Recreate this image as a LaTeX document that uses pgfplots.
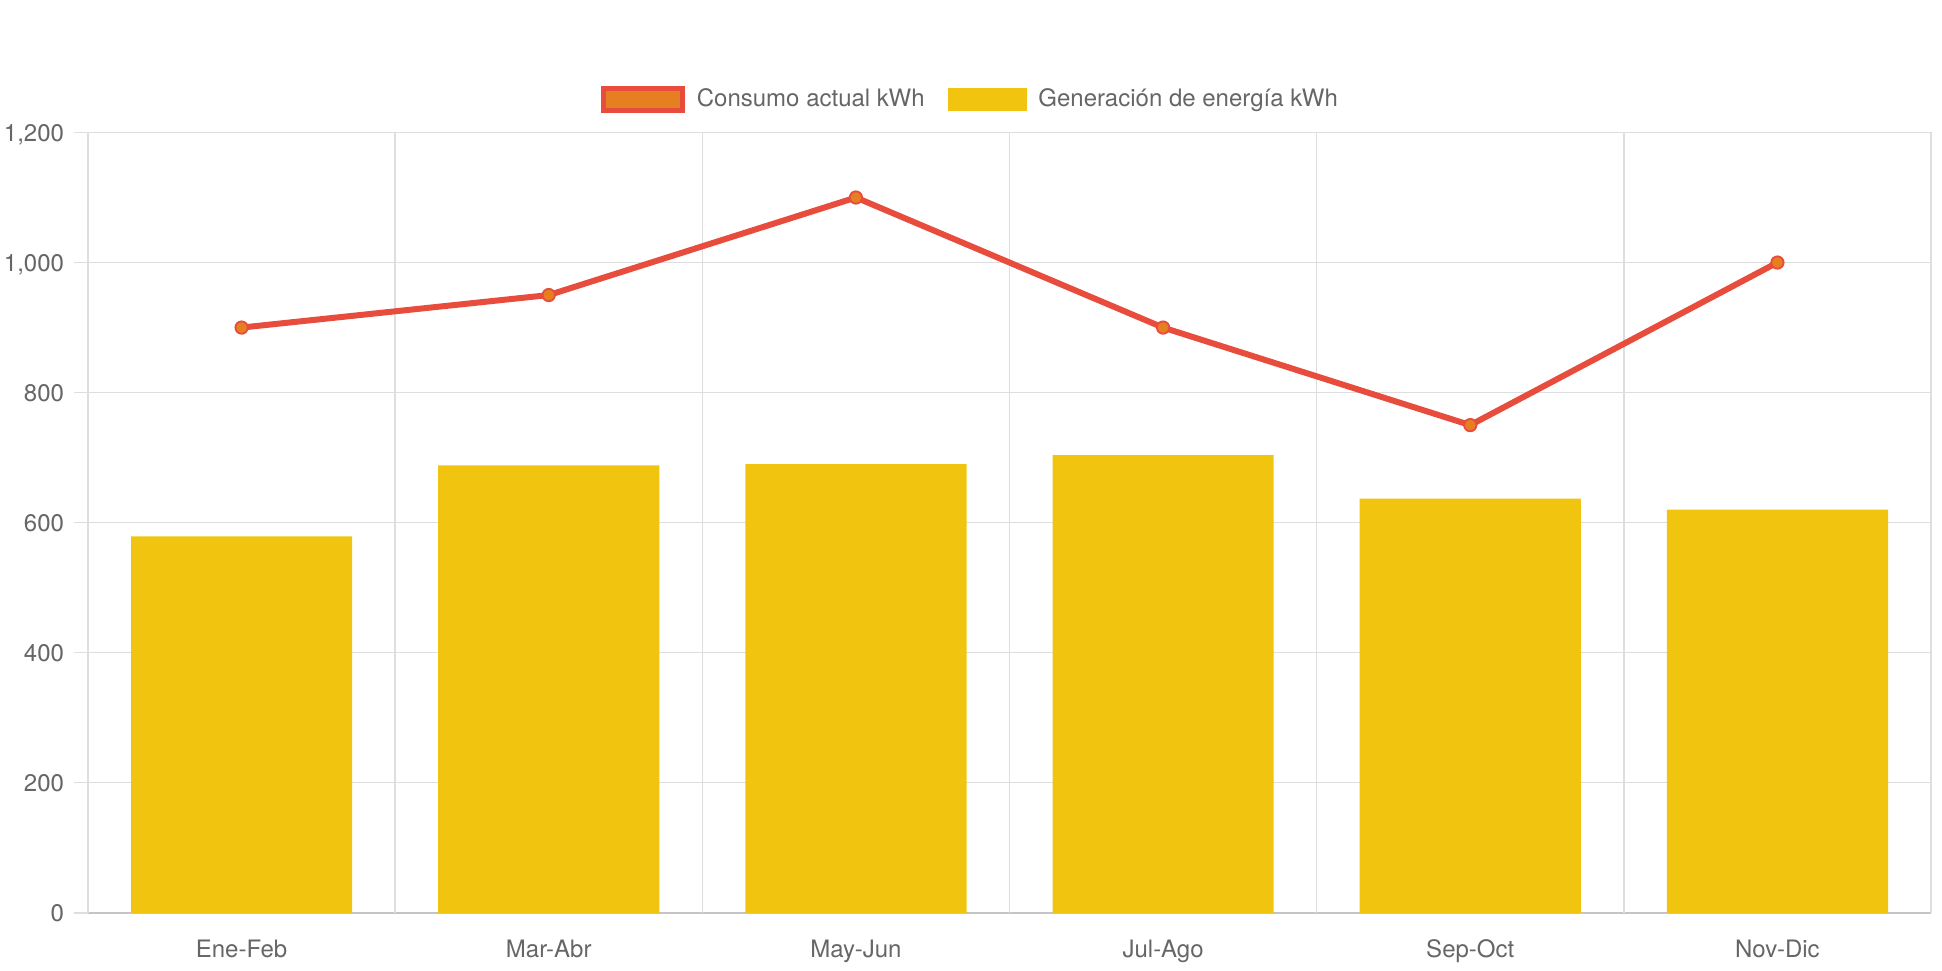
\documentclass[border=0pt]{standalone}
\usepackage{fontspec}
\setmainfont{TeX Gyre Heros}
\usepackage{pgfplots}
\usepackage{pgfplotstable}
\pgfplotsset{compat=1.18}
\definecolor{barY}{HTML}{F1C40F}
\definecolor{orangeC}{HTML}{E67E22}
\definecolor{redC}{HTML}{E74C3C}
\definecolor{txtgray}{HTML}{666666}
\definecolor{gridgray}{HTML}{DEDEDE}
\definecolor{axgray}{HTML}{C4C4C4}
\pgfplotstableread{
x gen cons
0 579 900
1 688 950
2 690 1100
3 704 900
4 637 750
5 620 1000
}\datatable
\begin{document}
\begin{tikzpicture}
\useasboundingbox (-44pt,-28.6pt) rectangle (927pt,456.4pt);
\begin{axis}[
  scale only axis,
  width=921.5pt, height=390.15pt,
  xmin=-0.5, xmax=5.5, ymin=0, ymax=1200,
  clip=false,
  axis x line=bottom, axis y line=left,
  x axis line style={-, draw=axgray, line width=0.8pt},
  y axis line style={-, draw=gridgray, line width=0.8pt},
  xtick={0,1,2,3,4,5},
  xticklabels={Ene-Feb,Mar-Abr,May-Jun,Jul-Ago,Sep-Oct,Nov-Dic},
  x tick style={draw=none},
  extra x ticks={-0.5,0.5,1.5,2.5,3.5,4.5,5.5},
  extra x tick labels={},
  extra x tick style={grid=major, major tick length=6.2pt, tick align=outside, tick style={draw=gridgray, line width=0.7pt}},
  ytick={0,200,400,600,800,1000,1200},
  ymajorgrids,
  major grid style={draw=gridgray, line width=0.7pt},
  y tick style={draw=gridgray, line width=0.7pt},
  tick align=outside,
  major tick length=6.8pt,
  /pgf/number format/assume math mode=true,
  /pgf/number format/.cd, 1000 sep={,}, /pgfplots/.cd,
  tick label style={font=\fontsize{12}{14}\selectfont, text=txtgray, inner sep=0pt},
  yticklabel style={anchor=base east, xshift=-5pt, yshift=-4.3pt},
  xticklabel style={anchor=base, yshift=-15.5pt},
  legend columns=2,
  legend style={at={(0.4783,1.0423)}, anchor=center, draw=none, fill=none,
    inner sep=0pt, outer sep=0pt,
    font=\fontsize{12}{14}\selectfont, text=txtgray,
    nodes={inner sep=0pt},
    /tikz/every odd column/.append style={column sep=6pt},
    /tikz/every even column/.append style={column sep=11.5pt}},
]
\addlegendimage{legend image code/.code={\draw[fill=orangeC, draw=redC, line width=2.4pt] (0pt,-5.5pt) rectangle (39.5pt,5.5pt);}}
\addlegendentry{Consumo actual kWh}
\addlegendimage{legend image code/.code={\fill[barY] (0pt,-5.5pt) rectangle (39pt,5.5pt);}}
\addlegendentry{Generación de energía kWh}
\addplot[ybar, bar width=0.72, bar shift=0pt, fill=barY, draw=none, forget plot] table[x=x, y=gen] {\datatable};
\addplot[draw=redC, line width=3pt, mark=*, mark size=3.1pt,
  mark options={fill=orangeC, draw=redC, line width=0.9pt}, forget plot] table[x=x, y=cons] {\datatable};
\end{axis}
\end{tikzpicture}
\end{document}
